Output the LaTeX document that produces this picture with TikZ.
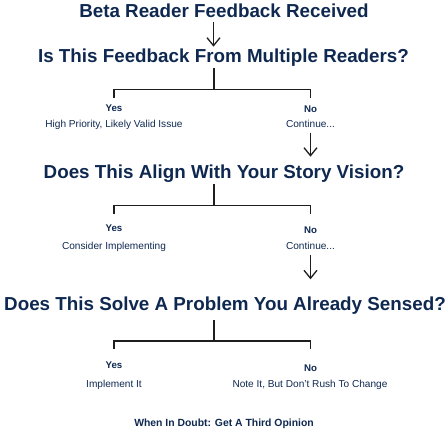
\documentclass[tikz,border=0pt]{standalone}
\usepackage{fontspec}
\setmainfont{Liberation Sans}
\usetikzlibrary{arrows.meta}
\definecolor{navy}{RGB}{14,40,80}
\definecolor{inkline}{RGB}{30,30,30}

\begin{document}
\begin{tikzpicture}[x=1pt, y=-1pt, >={Straight Barb[length=8pt,width=13pt]},
    heading/.style = {font=\bfseries\fontsize{18.8}{22}\selectfont, text=navy, inner sep=0pt, anchor=base},
    answer/.style = {font=\bfseries\fontsize{9.7}{11}\selectfont, text=navy, inner sep=0pt, anchor=base},
    outcome/.style = {font=\fontsize{10.1}{12}\selectfont, text=navy, inner sep=0pt, anchor=base},
    link/.style = {draw=inkline, line width=1.3pt}]

    \useasboundingbox (0,0) rectangle (448,431);

    \coordinate (spine) at (213.5,0);

    \node[heading] (title) at (224,17) {Beta Reader Feedback Received};
    \node[heading] (q1) at (223.5,62.7) {Is This Feedback From Multiple Readers?};
    \draw[link,->] ([yshift=-4.7pt]title.base -| spine) -- ([yshift=16pt]q1.base -| spine);

    % first split
    \coordinate (b1) at (214,89.5);
    \node[answer] (yes1) at (114,111) {Yes};
    \node[answer] (no1) at (310.5,112) {No};
    \node[outcome] (out1) at (114,127) {High Priority, Likely Valid Issue};
    \node[outcome] (cont1) at (310.5,127.3) {Continue...};
    \draw[link] ([yshift=-5.6pt]q1.base -| b1) -- (b1);
    \draw[link] (yes1 |- b1) ++(0,8) -- (yes1 |- b1) -- (no1 |- b1) -- ++(0,8);

    \node[heading] (q2) at (224,178) {Does This Align With Your Story Vision?};
    \draw[link,->] ([yshift=-5.4pt]cont1.base) -- ([yshift=21.3pt]q2.base -| cont1);

    % second split
    \coordinate (b2) at (214,205.5);
    \node[answer] (yes2) at (114,231) {Yes};
    \node[answer] (no2) at (310.5,233) {No};
    \node[outcome] (out2) at (114,249) {Consider Implementing};
    \node[outcome] (cont2) at (310.5,249) {Continue...};
    \draw[link] ([yshift=-6pt]q2.base -| b2) -- (b2);
    \draw[link] (yes2 |- b2) ++(0,8) -- (yes2 |- b2) -- (no2 |- b2) -- ++(0,8);

    \node[heading] (q3) at (225,310) {Does This Solve A Problem You Already Sensed?};
    \draw[link,->] ([yshift=-6pt]cont2.base) -- ([yshift=30.7pt]q3.base -| cont2);

    % last split
    \coordinate (b3) at (214,341);
    \node[answer] (yes3) at (114,368) {Yes};
    \node[answer] (no3) at (310.5,371) {No};
    \node[outcome] (out3) at (114,387) {Implement It};
    \node[outcome] (note3) at (310,387) {Note It, But Don't Rush To Change};
    \draw[link] ([yshift=-10pt]q3.base -| b3) -- (b3);
    \draw[link] (yes3 |- b3) ++(0,8) -- (yes3 |- b3) -- (no3 |- b3) -- ++(0,8);

    \node[answer, font=\bfseries\fontsize{10.4}{12}\selectfont] (doubt) at (224,426.5) {When In Doubt: Get A Third Opinion};

\end{tikzpicture}
\end{document}
